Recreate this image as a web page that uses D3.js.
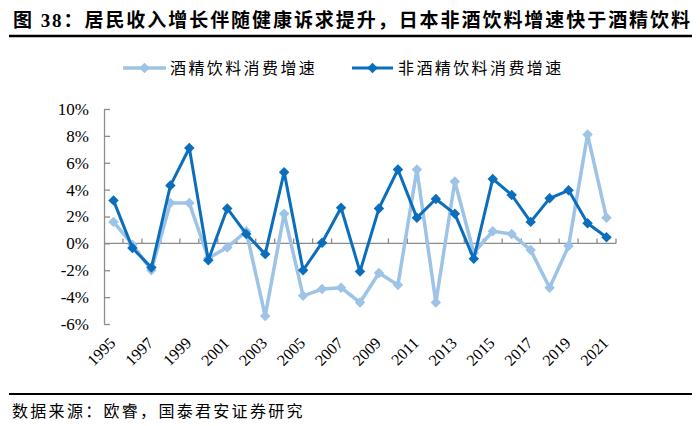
<!DOCTYPE html>
<html><head><meta charset="utf-8">
<script src="https://cdn.jsdelivr.net/npm/d3@7"></script>
<style>body{margin:0;background:#fff}svg{display:block}</style>
</head><body>
<svg id="c" width="700" height="426"></svg>
<script>
const years = d3.range(1995, 2022).map(String);
const alcohol = [1.6,-0.1,-2.0,3.0,3.0,-1.1,-0.3,0.9,-5.4,2.2,-3.9,-3.4,-3.3,-4.4,-2.2,-3.1,5.5,-4.4,4.6,-0.7,0.9,0.7,-0.5,-3.3,-0.2,8.1,1.9];
const nonAlcohol = [3.2,-0.35,-1.8,4.3,7.1,-1.25,2.6,0.7,-0.8,5.3,-2.0,0.05,2.65,-2.1,2.6,5.5,1.9,3.3,2.2,-1.15,4.8,3.6,1.6,3.35,3.95,1.5,0.45];
const yTicks = [-6,-4,-2,0,2,4,6,8,10];
const seriesNames = ["酒精饮料消费增速","非酒精饮料消费增速"];
const colors = ["#9DC3E6","#0A6EBD"];
const titleText = "图 38：居民收入增长伴随健康诉求提升，日本非酒饮料增速快于酒精饮料";
const sourceText = "数据来源：欧睿，国泰君安证券研究";

const FONT = "'Liberation Serif','Noto Sans CJK SC',serif";
const svg = d3.select("#c");

// title
svg.append("text").attr("x", 13).attr("y", 27)
  .attr("font-family", FONT).attr("font-weight", "bold").attr("font-size", 19)
  .attr("textLength", 677).attr("lengthAdjust", "spacing")
  .attr("fill", "#000").text(titleText);
svg.append("line").attr("x1", 9).attr("x2", 692).attr("y1", 36).attr("y2", 36)
  .attr("stroke", "#000").attr("stroke-width", 2.5);

// scales
const x = d3.scaleBand().domain(years).range([104, 616]).padding(0);
const y = d3.scaleLinear().domain([-6, 10]).range([324, 109]);
const cx = d => x(d) + x.bandwidth() / 2;

// y axis
const ya = svg.append("g").attr("transform", "translate(104,0)")
  .call(d3.axisLeft(y).tickValues(yTicks).tickFormat(d => d + "%").tickSizeInner(-6).tickSizeOuter(0).tickPadding(15));
ya.select(".domain").attr("stroke", "#8c8c8c").attr("stroke-width", 1.3);
ya.selectAll(".tick line").attr("stroke", "#8c8c8c").attr("stroke-width", 1.3);
ya.selectAll(".tick text").attr("font-family", FONT).attr("font-size", 17).attr("fill", "#000");

// x axis at zero with inside ticks at category boundaries
const xa = svg.append("g").attr("transform", `translate(0,${y(0)})`);
xa.append("line").attr("x1", 104).attr("x2", 616).attr("stroke", "#8c8c8c").attr("stroke-width", 1.3);
const bounds = years.map(d => x(d)).slice(1).concat([x.range()[1]]);
xa.selectAll("line.t").data(bounds).join("line").attr("class", "t")
  .attr("x1", d => d).attr("x2", d => d).attr("y1", 0).attr("y2", -5)
  .attr("stroke", "#8c8c8c").attr("stroke-width", 1.3);

// year labels
svg.append("g").selectAll("text").data(years.filter((d, i) => i % 2 === 0)).join("text")
  .attr("transform", d => `translate(${cx(d) + 3},${344}) rotate(-45)`)
  .attr("text-anchor", "end").attr("font-family", FONT).attr("font-size", 16).attr("fill", "#000")
  .text(d => d);

// lines
const diamond = d3.symbol().type(d3.symbolDiamond2).size(70);
const line = d3.line().x((d, i) => cx(years[i])).y(d => y(d));
[alcohol, nonAlcohol].forEach((vals, k) => {
  const g = svg.append("g");
  g.append("path").datum(vals).attr("d", line).attr("fill", "none")
    .attr("stroke", colors[k]).attr("stroke-width", k === 0 ? 3.5 : 3).attr("stroke-linejoin", "round");
  g.selectAll("path.m").data(vals).join("path").attr("class", "m")
    .attr("d", diamond).attr("transform", (d, i) => `translate(${cx(years[i])},${y(d)})`)
    .attr("fill", colors[k]);
});

// legend
const legX = [[123, 166, 170], [352, 393, 398]];
seriesNames.forEach((name, k) => {
  const [a, b, t] = legX[k];
  svg.append("line").attr("x1", a).attr("x2", b).attr("y1", 68).attr("y2", 68)
    .attr("stroke", colors[k]).attr("stroke-width", k === 0 ? 3.5 : 3);
  svg.append("path").attr("d", diamond).attr("transform", `translate(${(a + b) / 2},68)`).attr("fill", colors[k]);
  svg.append("text").attr("x", t).attr("y", 74).attr("font-family", FONT).attr("font-size", 16)
    .attr("letter-spacing", 2.4).attr("fill", "#000").text(name);
});

// footer
svg.append("line").attr("x1", 9).attr("x2", 692).attr("y1", 394).attr("y2", 394)
  .attr("stroke", "#000").attr("stroke-width", 2);
svg.append("text").attr("x", 12).attr("y", 417).attr("font-family", FONT).attr("font-size", 16)
  .attr("letter-spacing", 2.3).attr("fill", "#000").text(sourceText);
</script>
</body></html>
